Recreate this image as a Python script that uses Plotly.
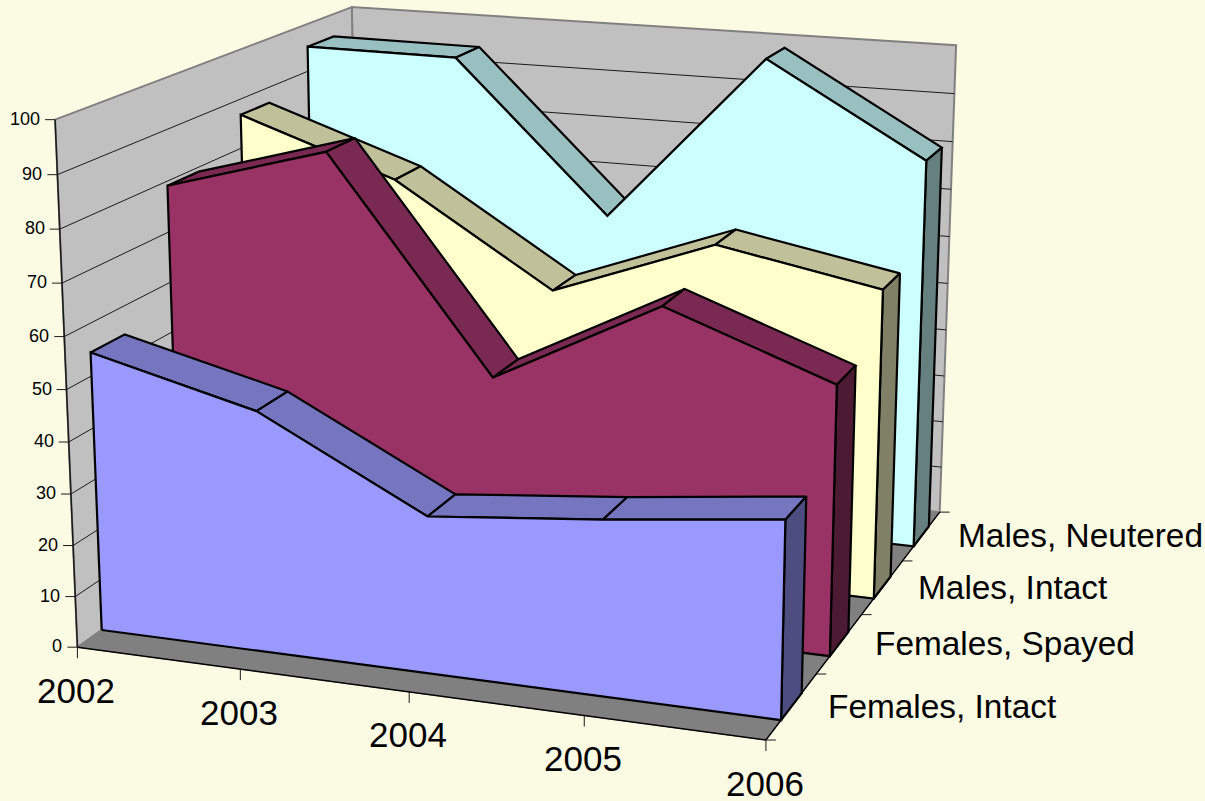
import numpy as np
import plotly.graph_objects as go

# ---- data -------------------------------------------------------------
years = [2002, 2003, 2004, 2005, 2006]
series_names = ["Females, Intact", "Females, Spayed", "Males, Intact", "Males, Neutered"]
females_intact = [54.5, 46.6, 30.2, 33.4, 37.2]
females_spayed = [79.1, 88.2, 47.3, 64.2, 52.5]
males_intact = [86.8, 76.0, 56.2, 68.3, 62.3]
males_neutered = [95.2, 95.0, 64.1, 99.0, 80.7]
z_ticks = [0, 10, 20, 30, 40, 50, 60, 70, 80, 90, 100]

# ---- styles -------------------------------------------------------------
BG = "#FBFBE4"
WALL = "#C0C0C0"
FLOOR = "#808080"
FACE = ["#9999FF", "#993366", "#FFFFCC", "#CCFFFF"]
TOP = ["#7676C0", "#7A2952", "#C0C099", "#99C0C0"]
SIDE = ["#4D4D80", "#4D1A33", "#808066", "#668080"]
FONT = "Arial, 'Liberation Sans', sans-serif"
SLAB = (0.29, 0.70)

# ---- oblique perspective view of the chart cube, calibrated on its corners
# (unit cube: x = years, y = series depth, z = value) -> page position
VIEW = [((0, 0, 0), (76, 647)), ((0, 0, 1), (55, 120)), ((1, 0, 0), (767, 739)),
        ((1, 1, 0), (939, 512)), ((1, 1, 1), (956, 45)), ((0, 1, 1), (352, 7)),
        ((1, .25, 0), (816, 675)), ((1, .5, 0), (862, 615)), ((1, .75, 0), (903, 561)),
        ((0, .0725, 0), (103, 630)), ((1, .0725, 0), (780, 720))]
rows = []
for (a, b, c), (u, v) in VIEW:
    rows.append([a, b, c, 1, 0, 0, 0, 0, -u * a, -u * b, -u * c, -u])
    rows.append([0, 0, 0, 0, a, b, c, 1, -v * a, -v * b, -v * c, -v])
M = np.linalg.svd(np.array(rows))[2][-1].reshape(3, 4)


def view(x, y, z):
    """x in years, y in series units (0..4), z in value units."""
    h = M @ np.array([(x - years[0]) / (years[-1] - years[0]), y / len(series_names), z / 100.0, 1.0])
    return h[0] / h[2], h[1] / h[2]


fig = go.Figure()


def poly(pts, fill=None, line="black", width=2.2):
    xs, ys = zip(*[view(*p) for p in pts])
    if fill:
        xs, ys = xs + xs[:1], ys + ys[:1]
    fig.add_trace(go.Scatter(x=xs, y=ys, mode="lines", fill="toself" if fill else None,
                             fillcolor=fill, line=dict(color=line, width=width),
                             hoverinfo="skip", showlegend=False))


x0, x1 = years[0], years[-1]
ymax = len(series_names)
# walls and floor
poly([(x0, ymax, 0), (x1, ymax, 0), (x1, ymax, 100), (x0, ymax, 100)], fill=WALL, line="#808080", width=2)
poly([(x0, 0, 0), (x0, ymax, 0), (x0, ymax, 100), (x0, 0, 100)], fill=WALL, line="#808080", width=2)
poly([(x0, 0, 0), (x1, 0, 0), (x1, ymax, 0), (x0, ymax, 0)], fill=FLOOR, line="#808080", width=1)
# grid lines
for t in z_ticks[1:-1]:
    poly([(x0, 0, t), (x0, ymax, t), (x1, ymax, t)], line="#1a1a1a", width=1)
# axis edges
poly([(x0, 0, 0), (x0, 0, 100)], line="#1a1a1a", width=1.5)
poly([(x0, 0, 0), (x1, 0, 0), (x1, ymax, 0)], line="black", width=1.5)

# slabs, back to front
all_series = [females_intact, females_spayed, males_intact, males_neutered]
for i in range(len(all_series) - 1, -1, -1):
    vals = all_series[i]
    yf, yb = i + SLAB[0], i + SLAB[1]
    for k in range(len(years) - 1):
        poly([(years[k], yf, vals[k]), (years[k + 1], yf, vals[k + 1]),
              (years[k + 1], yb, vals[k + 1]), (years[k], yb, vals[k])], fill=TOP[i])
    poly([(x1, yf, 0), (x1, yb, 0), (x1, yb, vals[-1]), (x1, yf, vals[-1])], fill=SIDE[i])
    poly([(years[0], yf, 0)] + [(yr, yf, v) for yr, v in zip(years, vals)] + [(years[-1], yf, 0)], fill=FACE[i])


def tick(base, dx, dy):
    fig.add_trace(go.Scatter(x=[base[0], base[0] + dx], y=[base[1], base[1] + dy], mode="lines",
                             line=dict(color="#1a1a1a", width=1), hoverinfo="skip", showlegend=False))


def label(text, base, dx, dy, size, anchor):
    fig.add_annotation(text=text, x=base[0], y=base[1], xref="x", yref="y", xshift=dx, yshift=-dy,
                       showarrow=False, xanchor=anchor, yanchor="middle",
                       font=dict(family=FONT, size=size, color="black"))


for t in z_ticks:
    b = view(x0, 0, t)
    tick(b, -10, 0)
    label(str(t), b, -13, -1, 18, "right")
for yr in years:
    b = view(yr, 0, 0)
    tick(b, 0, 11)
    label(str(yr), b, -1, 43, 35, "center")
for d in range(ymax + 1):
    tick(view(x1, d, 0), 10, 0)
for d, name in enumerate(series_names):
    label(name, view(x1, d + 0.5, 0), 34, 0, 33.4, "left")

fig.update_layout(width=1205, height=801, margin=dict(l=0, r=0, t=0, b=0), autosize=False,
                  paper_bgcolor=BG, plot_bgcolor=BG, showlegend=False,
                  xaxis=dict(range=[0, 1205], visible=False, fixedrange=True),
                  yaxis=dict(range=[801, 0], visible=False, fixedrange=True))
fig.write_html("out.html", config={"displayModeBar": False},
               post_script="document.documentElement.style.margin='0';document.body.style.margin='0';document.body.style.padding='0';document.documentElement.style.background='" + BG + "';document.body.style.background='" + BG + "';document.body.style.overflow='hidden';")
